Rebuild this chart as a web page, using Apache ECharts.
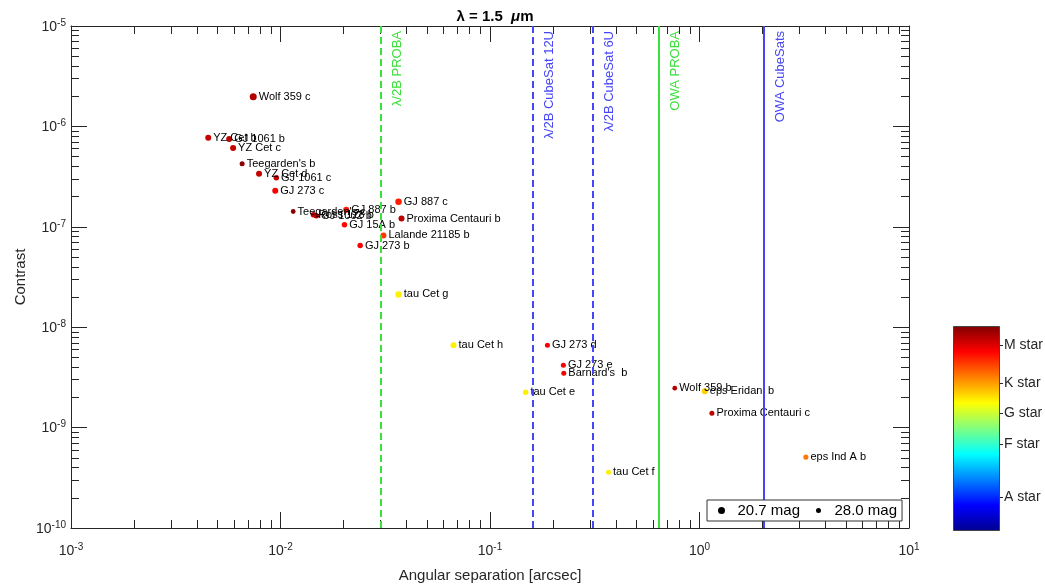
<!DOCTYPE html>
<html>
<head>
<meta charset="utf-8">
<script src="https://cdn.jsdelivr.net/npm/echarts@6/dist/echarts.min.js"></script>
<style>html,body{margin:0;padding:0;background:#fff}#c{width:1045px;height:585px}</style>
</head>
<body>
<div id="c"></div>
<script>
// ---------- data ----------
const planetNames = ['Wolf 359 c','YZ Cet b','GJ 1061 b','YZ Cet c','Teegarden\'s b','YZ Cet d','GJ 1061 c','GJ 273 c',
  'Teegarden\'s c','GJ 887 b','Ross 128 b','GJ 1002 b','GJ 15A b','Lalande 21185 b','GJ 273 b','GJ 887 c',
  'Proxima Centauri b','tau Cet g','tau Cet h','GJ 273 d','GJ 273 e','Barnard\'s  b','tau Cet e','tau Cet f',
  'Wolf 359 b','eps Eridani b','Proxima Centauri c','eps Ind A b'];
const separations = [0.00741,0.00452,0.00569,0.00594,0.00656,0.0079,0.00955,0.00944,
  0.0115,0.0206,0.01436,0.01483,0.0202,0.031,0.024,0.0366,
  0.0378,0.0366,0.067,0.188,0.224,0.225,0.148,0.368,
  0.762,1.06,1.146,3.22];
const contrasts = [1.97e-6,7.7e-7,7.5e-7,6.1e-7,4.25e-7,3.38e-7,3.08e-7,2.29e-7,
  1.42e-7,1.48e-7,1.32e-7,1.29e-7,1.05e-7,8.2e-8,6.5e-8,1.78e-7,
  1.21e-7,2.12e-8,6.6e-9,6.6e-9,4.17e-9,3.47e-9,2.25e-9,3.6e-10,
  2.47e-9,2.3e-9,1.39e-9,5.08e-10];
// position of the host star on the colour bar (0 = bottom, 1 = top)
const starTypeValues = [0.95,0.93,0.94,0.93,0.99,0.93,0.94,0.88,
  0.99,0.85,0.94,0.95,0.87,0.82,0.88,0.85,
  0.94,0.64,0.64,0.88,0.88,0.89,0.64,0.64,
  0.95,0.67,0.94,0.76];
const planetMags = [20.7,23.6,23.6,23.6,26.5,23.6,25.1,23.6,
  27.2,23.6,25.1,25.1,25.1,23.6,25.1,22.2,
  23.6,22.2,23.6,26.5,26.5,26.5,25.1,26.5,
  27.2,23.6,26.5,26.5];

const lineNames = ['λ/2B PROBA','λ/2B CubeSat 12U','λ/2B CubeSat 6U','OWA PROBA','OWA CubeSats'];
const lineSeps = [0.031,0.156,0.309,0.638,2.03];

const legendMags = [20.7, 28.0];
const xMajorTicks = [1e-3,1e-2,1e-1,1,10];
const yMajorTicks = [1e-10,1e-9,1e-8,1e-7,1e-6,1e-5];
const colorbarTicks = [0.167,0.424,0.576,0.723,0.907];
const colorbarLabels = ['A star','F star','G star','K star','M star'];

// ---------- styles ----------
const FONT = 'Liberation Sans, Arial, Helvetica, sans-serif';
const AX = '#262626';
const GREEN = '#3ce03c';
const BLUE = '#4646f6';
const lineColors = [GREEN, BLUE, BLUE, GREEN, BLUE];
const lineDashed = [true, true, true, false, false];
const jetColors = ['#00008f','#0000ff','#0080ff','#00ffff','#80ff80','#ffff00','#ff8000','#ff0000','#800000'];

function magToSize(m){ return 4.5 + (28.0 - m) / (28.0 - 20.7) * 2.5; }
function minorTicks(lo, hi){
  const out = [];
  for (let e = lo; e < hi; e++) for (let k = 2; k <= 9; k++) out.push(k * Math.pow(10, e));
  return out;
}
function pow10Label(v){ const e = Math.round(Math.log10(v)); return '{b|10}{e|' + e + '}'; }
const supRich = {
  b: {fontSize: 14, fontFamily: FONT, color: AX, lineHeight: 16, padding: [6,0,0,0], verticalAlign: 'bottom'},
  e: {fontSize: 10, fontFamily: FONT, color: AX, lineHeight: 12, verticalAlign: 'top'}
};

function xAx(pos, ticks, len, labels, line, extra){
  return Object.assign({
    type: 'log', logBase: 10, min: 1e-3, max: 10, gridIndex: 0, position: pos,
    axisLine: {show: line, onZero: false, lineStyle: {color: AX, width: 1}},
    axisTick: {show: true, inside: true, length: len, customValues: ticks, lineStyle: {color: AX, width: 1}},
    axisLabel: labels ? {show: true, customValues: xMajorTicks, formatter: pow10Label, rich: supRich, margin: 14} : {show: false},
    splitLine: {show: false}, axisPointer: {show: false}
  }, extra || {});
}
function yAx(pos, ticks, len, labels, line, extra){
  return Object.assign({
    type: 'log', logBase: 10, min: 1e-10, max: 1e-5, gridIndex: 0, position: pos,
    axisLine: {show: line, onZero: false, lineStyle: {color: AX, width: 1}},
    axisTick: {show: true, inside: true, length: len, customValues: ticks, lineStyle: {color: AX, width: 1}},
    axisLabel: labels ? {show: true, customValues: yMajorTicks, formatter: pow10Label, rich: supRich, margin: 5} : {show: false},
    splitLine: {show: false}, axisPointer: {show: false}
  }, extra || {});
}

const planetData = planetNames.map((n, i) => [separations[i], contrasts[i], starTypeValues[i], planetMags[i], n]);

const cbStops = jetColors.slice().reverse().map((c, i, a) => ({offset: i / (a.length - 1), color: c}));

const option = {
  animation: false,
  backgroundColor: '#fff',
  title: {
    text: '{b|λ = 1.5  }{i|μ}{b|m}',
    left: 490, top: 4, textAlign: 'center',
    textStyle: {rich: {
      b: {fontSize: 15, fontWeight: 'bold', fontFamily: FONT, color: '#000'},
      i: {fontSize: 15, fontWeight: 'bold', fontStyle: 'italic', fontFamily: FONT, color: '#000'}
    }}
  },
  grid: [
    {left: 71, right: 136, top: 26, bottom: 57, containLabel: false, outerBoundsMode: 'none'},
    {left: 953, width: 47, top: 326, height: 205, containLabel: false, outerBoundsMode: 'none'}
  ],
  xAxis: [
    xAx('bottom', xMajorTicks, 16, true, true, {
      name: 'Angular separation [arcsec]', nameLocation: 'middle', nameGap: 40, nameMoveOverlap: false,
      nameTextStyle: {fontSize: 15, color: AX, fontFamily: FONT}
    }),
    xAx('bottom', minorTicks(-3, 1), 8, false, false),
    xAx('top', xMajorTicks, 16, false, true),
    xAx('top', minorTicks(-3, 1), 8, false, false),
    {type: 'category', gridIndex: 1, data: [''], show: false}
  ],
  yAxis: [
    yAx('left', yMajorTicks, 16, true, true, {
      name: 'Contrast', nameLocation: 'middle', nameGap: 43, nameMoveOverlap: false,
      nameTextStyle: {fontSize: 15, color: AX, fontFamily: FONT}
    }),
    yAx('left', minorTicks(-10, -5), 8, false, false),
    yAx('right', yMajorTicks, 16, false, true),
    yAx('right', minorTicks(-10, -5), 8, false, false),
    {
      type: 'value', gridIndex: 1, min: 0, max: 1, position: 'right',
      axisLine: {show: false},
      axisTick: {show: true, inside: false, length: 3, customValues: colorbarTicks, lineStyle: {color: AX}},
      axisLabel: {show: true, customValues: colorbarTicks, margin: 4, fontSize: 14, fontFamily: FONT, color: AX,
        formatter: v => { const i = colorbarTicks.indexOf(v); return i >= 0 ? colorbarLabels[i] : ''; }},
      splitLine: {show: false}
    }
  ],
  visualMap: {
    type: 'continuous', show: false, seriesIndex: 0, dimension: 2, min: 0, max: 1,
    inRange: {color: jetColors}
  },
  legend: [
    {
      data: [{name: legendMags[0].toFixed(1) + ' mag', icon: 'circle'}],
      left: 707, top: 500, itemWidth: 22, itemHeight: 7, selectedMode: false,
      padding: [3, 102, 3, 11], borderColor: '#333', borderWidth: 1, backgroundColor: '#fff',
      textStyle: {fontSize: 15, fontFamily: FONT, color: '#000'}, z: 10
    },
    {
      data: [{name: legendMags[1].toFixed(1) + ' mag', icon: 'circle'}],
      left: 816, top: 500, itemWidth: 22, itemHeight: 5, selectedMode: false,
      padding: [3, 0, 3, 0],
      textStyle: {fontSize: 15, fontFamily: FONT, color: '#000'}, z: 11
    }
  ],
  series: [
    {
      type: 'scatter', name: 'planets', xAxisIndex: 0, yAxisIndex: 0, z: 3,
      data: planetData,
      symbol: 'circle',
      symbolSize: v => magToSize(v[3]),
      itemStyle: {opacity: 1},
      label: {
        show: true, position: 'right', distance: 2,
        formatter: p => p.data[4],
        fontSize: 11, fontFamily: FONT, color: '#000'
      },
      labelLayout: {hideOverlap: false},
      emphasis: {disabled: true}
    },
    {
      type: 'scatter', name: 'limits', xAxisIndex: 0, yAxisIndex: 0, data: [], z: 4,
      markLine: {
        silent: true, symbol: 'none', animation: false,
        data: lineSeps.map((x, i) => ({
          xAxis: x,
          lineStyle: {color: lineColors[i], width: 2, type: lineDashed[i] ? [7, 4] : 'solid', opacity: 1},
          label: {show: true, formatter: lineNames[i], position: 'insideEndBottom', distance: [5, 10],
            color: lineColors[i], fontSize: 13, fontFamily: FONT}
        }))
      }
    },
    {type: 'scatter', name: legendMags[0].toFixed(1) + ' mag', xAxisIndex: 0, yAxisIndex: 0, data: [], itemStyle: {color: '#000', opacity: 1}},
    {type: 'scatter', name: legendMags[1].toFixed(1) + ' mag', xAxisIndex: 0, yAxisIndex: 0, data: [], itemStyle: {color: '#000', opacity: 1}},
    {
      type: 'bar', name: 'colorbar', xAxisIndex: 4, yAxisIndex: 4, data: [1], barWidth: '100%', silent: true,
      itemStyle: {color: new echarts.graphic.LinearGradient(0, 0, 0, 1, cbStops), borderColor: '#444', borderWidth: 1}
    }
  ]
};
const chart = echarts.init(document.getElementById('c'));
chart.setOption(option);
</script>
</body>
</html>
